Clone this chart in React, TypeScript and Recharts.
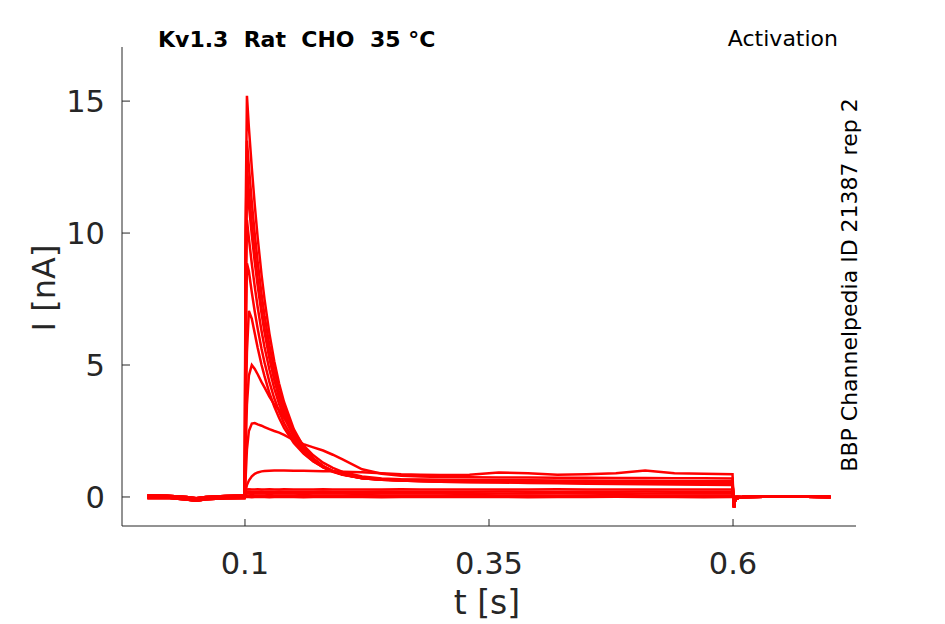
import React from "react"
import { LineChart, Line, XAxis, YAxis } from "recharts"

// time base (s) shared by every sweep
const PRE_T = [0, 0.02, 0.04, 0.05, 0.06, 0.08, 0.0995]
const PULSE_T = [
  0.1, 0.1005, 0.102, 0.104, 0.107, 0.11, 0.113, 0.117, 0.12, 0.125, 0.13, 0.135, 0.14, 0.15, 0.16, 0.17, 0.18,
  0.19, 0.2, 0.22, 0.24, 0.26, 0.28, 0.3, 0.33, 0.36, 0.39, 0.42, 0.45, 0.48, 0.51, 0.54, 0.57, 0.5995,
]
const POST_T = [0.6005, 0.601, 0.602, 0.604, 0.61, 0.65, 0.7]

// holding current before the step (nA)
const BASE_1 = [0.02, 0.03, -0.05, -0.1, -0.05, 0.0, 0.02]
const BASE_2 = [-0.04, -0.03, -0.1, -0.14, -0.09, -0.05, -0.04]
const BASE_3 = [0.06, 0.05, 0.0, -0.05, 0.0, 0.04, 0.06]

// tail after the step
const POST_DIP = [-0.15, -0.4, -0.15, -0.05, 0.0, 0.02, 0.0]
const POST_FLAT = [0.0, -0.02, 0.0, 0.01, 0.0, 0.02, 0.0]

// currents during the step (nA), one per sweep
const I_15 = [2.0, 10.0, 15.2, 14.0, 12.46, 11.07, 9.83, 8.41, 7.5, 6.2, 5.14, 4.29, 3.6, 2.57, 1.9, 1.46, 1.17, 0.97, 0.85, 0.71, 0.65, 0.62, 0.6, 0.58, 0.56, 0.55, 0.53, 0.52, 0.5, 0.49, 0.48, 0.47, 0.46, 0.45]
const I_13 = [2.0, 9.0, 13.5, 12.51, 11.16, 9.97, 8.91, 7.68, 6.88, 5.74, 4.81, 4.04, 3.42, 2.49, 1.87, 1.45, 1.17, 0.98, 0.86, 0.71, 0.65, 0.63, 0.62, 0.61, 0.6, 0.59, 0.58, 0.57, 0.56, 0.55, 0.55, 0.54, 0.53, 0.53]
const I_12 = [1.5, 8.0, 12.5, 11.58, 10.35, 9.24, 8.26, 7.13, 6.4, 5.35, 4.48, 3.78, 3.21, 2.35, 1.77, 1.39, 1.12, 0.95, 0.84, 0.71, 0.65, 0.62, 0.6, 0.58, 0.57, 0.56, 0.55, 0.54, 0.53, 0.52, 0.51, 0.5, 0.5, 0.49]
const I_11 = [1.5, 7.5, 11.9, 11.06, 9.92, 8.9, 8.0, 6.95, 6.25, 5.27, 4.45, 3.78, 3.22, 2.39, 1.81, 1.43, 1.16, 0.98, 0.86, 0.72, 0.66, 0.63, 0.61, 0.6, 0.59, 0.58, 0.57, 0.56, 0.55, 0.54, 0.53, 0.52, 0.52, 0.51]
const I_10 = [1.2, 6.5, 10.5, 9.8, 8.83, 7.97, 7.19, 6.28, 5.68, 4.83, 4.11, 3.52, 3.03, 2.27, 1.76, 1.4, 1.15, 0.98, 0.86, 0.73, 0.66, 0.63, 0.62, 0.61, 0.6, 0.59, 0.58, 0.57, 0.56, 0.56, 0.55, 0.54, 0.54, 0.53]
const I_9 = [0.8, 4.5, 8.85, 8.55, 7.75, 7.03, 6.38, 5.61, 5.1, 4.36, 3.74, 3.23, 2.8, 2.14, 1.67, 1.35, 1.13, 0.97, 0.86, 0.73, 0.66, 0.64, 0.63, 0.62, 0.61, 0.6, 0.59, 0.58, 0.58, 0.57, 0.56, 0.56, 0.55, 0.55]
const I_7 = [0.5, 2.5, 5.5, 7.05, 6.75, 6.2, 5.65, 5.0, 4.58, 3.94, 3.43, 2.99, 2.62, 2.05, 1.64, 1.35, 1.13, 0.98, 0.87, 0.74, 0.67, 0.65, 0.64, 0.63, 0.62, 0.62, 0.61, 0.6, 0.6, 0.59, 0.58, 0.58, 0.57, 0.57]
const I_5 = [0.3, 1.5, 3.5, 4.6, 5.0, 4.85, 4.65, 4.35, 4.15, 3.8, 3.5, 3.3, 3.0, 2.45, 1.95, 1.58, 1.3, 1.1, 0.95, 0.78, 0.7, 0.67, 0.66, 0.65, 0.64, 0.63, 0.63, 0.62, 0.62, 0.61, 0.61, 0.6, 0.6, 0.6]
const I_3 = [0.1, 0.6, 1.8, 2.5, 2.78, 2.8, 2.75, 2.7, 2.65, 2.57, 2.5, 2.44, 2.35, 2.15, 2.0, 1.88, 1.76, 1.6, 1.42, 1.05, 0.88, 0.8, 0.78, 0.76, 0.75, 0.74, 0.74, 0.73, 0.73, 0.72, 0.72, 0.71, 0.71, 0.7]
const I_1 = [0.05, 0.2, 0.45, 0.62, 0.78, 0.88, 0.93, 0.97, 0.98, 0.99, 1.0, 1.0, 1.0, 0.99, 0.99, 0.98, 0.97, 0.97, 0.96, 0.94, 0.9, 0.86, 0.84, 0.83, 0.84, 0.93, 0.9, 0.84, 0.86, 0.9, 1.0, 0.9, 0.88, 0.86]
const I_F4 = [0.1, 0.25, 0.28, 0.29, 0.28, 0.28, 0.29, 0.28, 0.28, 0.29, 0.28, 0.28, 0.29, 0.28, 0.28, 0.28, 0.29, 0.28, 0.28, 0.28, 0.28, 0.29, 0.28, 0.28, 0.28, 0.28, 0.28, 0.29, 0.28, 0.28, 0.28, 0.28, 0.28, 0.28]
const I_F3 = [0.08, 0.18, 0.2, 0.21, 0.2, 0.2, 0.2, 0.21, 0.2, 0.2, 0.2, 0.21, 0.2, 0.2, 0.2, 0.2, 0.21, 0.2, 0.2, 0.2, 0.21, 0.2, 0.2, 0.2, 0.2, 0.21, 0.2, 0.2, 0.2, 0.2, 0.21, 0.2, 0.2, 0.2]
const I_F2 = [0.05, 0.12, 0.13, 0.13, 0.14, 0.13, 0.13, 0.13, 0.14, 0.13, 0.13, 0.13, 0.13, 0.14, 0.13, 0.13, 0.13, 0.13, 0.14, 0.13, 0.13, 0.13, 0.14, 0.13, 0.13, 0.13, 0.13, 0.14, 0.13, 0.13, 0.13, 0.13, 0.13, 0.13]
const I_F1 = [0.02, 0.05, 0.06, 0.06, 0.07, 0.06, 0.06, 0.06, 0.06, 0.07, 0.06, 0.06, 0.06, 0.06, 0.07, 0.06, 0.06, 0.06, 0.06, 0.07, 0.06, 0.06, 0.06, 0.06, 0.07, 0.06, 0.06, 0.06, 0.06, 0.07, 0.06, 0.06, 0.06, 0.06]
const I_F0 = [0.0, 0.0, 0.01, 0.0, -0.01, 0.0, 0.01, 0.0, 0.0, -0.01, 0.0, 0.01, 0.0, 0.0, -0.01, 0.0, 0.0, 0.01, 0.0, 0.0, -0.01, 0.0, 0.0, 0.01, 0.0, 0.0, -0.01, 0.0, 0.0, 0.01, 0.0, 0.0, -0.01, 0.0]

const SWEEPS = [
  { id: "f0", pre: BASE_2, pulse: I_F0, post: POST_FLAT },
  { id: "f1", pre: BASE_3, pulse: I_F1, post: POST_FLAT },
  { id: "f2", pre: BASE_1, pulse: I_F2, post: POST_FLAT },
  { id: "f3", pre: BASE_2, pulse: I_F3, post: POST_FLAT },
  { id: "f4", pre: BASE_3, pulse: I_F4, post: POST_FLAT },
  { id: "s1", pre: BASE_1, pulse: I_1, post: POST_DIP },
  { id: "s3", pre: BASE_2, pulse: I_3, post: POST_DIP },
  { id: "s5", pre: BASE_3, pulse: I_5, post: POST_DIP },
  { id: "s7", pre: BASE_1, pulse: I_7, post: POST_DIP },
  { id: "s9", pre: BASE_2, pulse: I_9, post: POST_DIP },
  { id: "s10", pre: BASE_3, pulse: I_10, post: POST_DIP },
  { id: "s11", pre: BASE_1, pulse: I_11, post: POST_DIP },
  { id: "s12", pre: BASE_2, pulse: I_12, post: POST_DIP },
  { id: "s13", pre: BASE_3, pulse: I_13, post: POST_DIP },
  { id: "s15", pre: BASE_1, pulse: I_15, post: POST_DIP },
]

const X_TICKS = [0.1, 0.35, 0.6]
const Y_TICKS = [0, 5, 10, 15]

const FONT = "DejaVu Sans"
const INK = "#262626"

const toPoints = (ts: number[], vs: number[]) => ts.map((t, i) => ({ t, i: vs[i] }))

const XTick = ({ x, y, payload }: any) => (
  <g>
    <line x1={x} x2={x} y1={y} y2={y - 7} stroke={INK} strokeWidth={1} />
    <text x={x} y={y + 48} textAnchor="middle" fontSize={30.5} fontFamily={FONT} fill={INK}>
      {payload.value}
    </text>
  </g>
)

const YTick = ({ x, y, payload }: any) => (
  <g>
    <line x1={x} x2={x + 8} y1={y} y2={y} stroke={INK} strokeWidth={1} />
    <text x={x - 17} y={y} dy="0.36em" textAnchor="end" fontSize={30.5} fontFamily={FONT} fill={INK}>
      {payload.value}
    </text>
  </g>
)

export default function App() {
  return (
    <div style={{ position: "absolute", left: 0, top: 0, width: 945, height: 624, background: "#fff" }}>
      <LineChart width={945} height={624} margin={{ top: 47, right: 89, bottom: 58, left: 62 }}>
        <XAxis
          type="number"
          dataKey="t"
          domain={[-0.026, 0.726]}
          ticks={X_TICKS}
          allowDataOverflow
          height={40}
          tickSize={0}
          tickMargin={0}
          tickLine={false}
          axisLine={{ stroke: INK }}
          tick={<XTick />}
        />
        <YAxis
          type="number"
          dataKey="i"
          domain={[-1.1, 17.05]}
          ticks={Y_TICKS}
          allowDataOverflow
          width={60}
          tickSize={0}
          tickMargin={0}
          tickLine={false}
          axisLine={{ stroke: INK }}
          tick={<YTick />}
        />
        {SWEEPS.map((s) => (
          <Line
            key={s.id}
            data={[...toPoints(PRE_T, s.pre), ...toPoints(PULSE_T, s.pulse), ...toPoints(POST_T, s.post)]}
            dataKey="i"
            type="linear"
            stroke="#ff0000"
            strokeWidth={2.5}
            dot={false}
            activeDot={false}
            isAnimationActive={false}
          />
        ))}
      </LineChart>
      <svg width={945} height={624} style={{ position: "absolute", left: 0, top: 0, pointerEvents: "none" }}>
        <text x={158} y={47} fontSize={22} fontWeight="bold" fontFamily={FONT} fill="#000" xmlSpace="preserve" style={{ whiteSpace: "pre" }}>
          {"Kv1.3  Rat  CHO  35 °C"}
        </text>
        <text x={838} y={46} fontSize={22} textAnchor="end" fontFamily={FONT} fill="#000">
          Activation
        </text>
        <text
          x={849}
          y={285}
          fontSize={22}
          textAnchor="middle"
          dominantBaseline="central"
          fontFamily={FONT}
          fill="#000"
          transform="rotate(-90 849 285)"
        >
          BBP Channelpedia ID 21387 rep 2
        </text>
        <text x={487} y={614} fontSize={33} textAnchor="middle" fontFamily={FONT} fill={INK}>
          t [s]
        </text>
        <text
          x={44}
          y={288}
          fontSize={32}
          textAnchor="middle"
          dominantBaseline="central"
          fontFamily={FONT}
          fill={INK}
          transform="rotate(-90 44 288)"
        >
          I [nA]
        </text>
      </svg>
    </div>
  )
}
